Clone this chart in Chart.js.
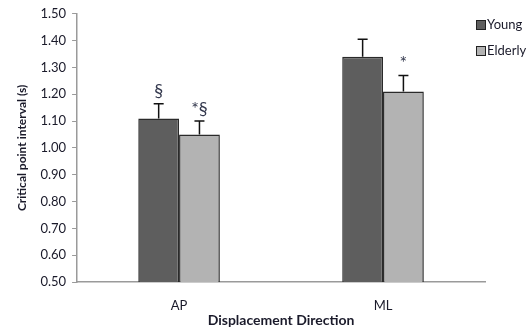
<!DOCTYPE html>
<html>
<head>
<meta charset="utf-8">
<script src="https://cdn.jsdelivr.net/npm/chart.js@4"></script>
<style>
    body { margin: 0; background: #fff; }
    #wrap { width: 531px; height: 327px; position: relative; }
</style>
</head>
<body>
<div id="wrap"><canvas id="chart"></canvas></div>
<script>
const categories = ["AP", "ML"];
const youngValues = [1.11, 1.34];
const elderlyValues = [1.05, 1.21];
const youngErrors = [0.055, 0.065];
const elderlyErrors = [0.05, 0.06];
const youngMarks = ["§", ""];
const elderlyMarks = ["*§", "*"];
const yTicks = [0.5, 0.6, 0.7, 0.8, 0.9, 1.0, 1.1, 1.2, 1.3, 1.4, 1.5];

const textColor = "#1a1a2a";
const fontFamily = "Lato, 'Open Sans', sans-serif";

Chart.defaults.color = textColor;
Chart.defaults.font.family = fontFamily;

// error bars (upward only) plus significance marks
const errorBarPlugin = {
    id: "errorBars",
    afterDatasetsDraw(chart) {
        const { ctx, scales } = chart;
        ctx.save();
        chart.data.datasets.forEach((ds, i) => {
            const meta = chart.getDatasetMeta(i);
            meta.data.forEach((bar, j) => {
                const top = scales.y.getPixelForValue(ds.data[j] + ds.errors[j]);
                ctx.strokeStyle = "#111";
                ctx.lineWidth = 1.5;
                ctx.beginPath();
                ctx.moveTo(bar.x, bar.y);
                ctx.lineTo(bar.x, top);
                ctx.moveTo(bar.x - 5, top);
                ctx.lineTo(bar.x + 5, top);
                ctx.stroke();
                if (ds.marks[j]) {
                    ctx.fillStyle = "#33384d";
                    ctx.font = "18px " + fontFamily;
                    ctx.textAlign = "center";
                    ctx.textBaseline = "bottom";
                    ctx.fillText(ds.marks[j], bar.x, top - 3);
                }
            });
        });
        ctx.restore();
    },
};

// legend at top right and the x axis title under the labels
const sideLegendPlugin = {
    id: "sideLegend",
    afterDraw(chart) {
        const { ctx, chartArea } = chart;
        ctx.save();
        chart.data.datasets.forEach((ds, i) => {
            const y = 25 + i * 26;
            ctx.fillStyle = ds.backgroundColor;
            ctx.strokeStyle = "#222";
            ctx.lineWidth = 1;
            ctx.fillRect(476.5, y - 4.5, 9, 9);
            ctx.strokeRect(476.5, y - 4.5, 9, 9);
            ctx.fillStyle = textColor;
            ctx.font = "13px " + fontFamily;
            ctx.textAlign = "left";
            ctx.textBaseline = "middle";
            ctx.fillText(ds.label, 487, y);
        });
        ctx.font = "bold 14px " + fontFamily;
        ctx.textAlign = "center";
        ctx.textBaseline = "middle";
        ctx.fillText("Displacement Direction", (chartArea.left + chartArea.right) / 2, 320);
        ctx.restore();
    },
};

new Chart(document.getElementById("chart"), {
    type: "bar",
    data: {
        labels: categories,
        datasets: [
            {
                label: "Young",
                data: youngValues,
                errors: youngErrors,
                marks: youngMarks,
                backgroundColor: "#5e5e5e",
                borderColor: "#2a2a2a",
                borderWidth: 1.5,
                categoryPercentage: 0.4,
                barPercentage: 1.0,
            },
            {
                label: "Elderly",
                data: elderlyValues,
                errors: elderlyErrors,
                marks: elderlyMarks,
                backgroundColor: "#b3b3b3",
                borderColor: "#2a2a2a",
                borderWidth: 1.5,
                categoryPercentage: 0.4,
                barPercentage: 1.0,
            },
        ],
    },
    options: {
        responsive: true,
        maintainAspectRatio: false,
        animation: false,
        layout: { padding: { top: 10, right: 46, left: 15, bottom: 12 } },
        plugins: {
            legend: { display: false },
            tooltip: { enabled: false },
        },
        scales: {
            x: {
                grid: { display: false, drawTicks: false },
                border: { color: "#9a9a9a", width: 1.5 },
                ticks: { padding: 16, font: { size: 13 }, color: textColor },
                afterFit(scale) {
                    scale.height = 33;
                },
            },
            y: {
                min: 0.5,
                max: 1.5,
                afterBuildTicks(axis) {
                    axis.ticks = yTicks.map((v) => ({ value: v }));
                },
                ticks: {
                    callback: (v) => Number(v).toFixed(2),
                    font: { size: 13 },
                    padding: 6,
                    color: textColor,
                },
                grid: { drawOnChartArea: false, drawTicks: true, tickLength: 5, color: "#9a9a9a" },
                border: { color: "#9a9a9a", width: 1.5 },
                title: {
                    display: true,
                    text: "Critical point interval (s)",
                    font: { size: 12, weight: "bold" },
                    padding: { top: 0, bottom: 5 },
                    color: textColor,
                },
            },
        },
    },
    plugins: [errorBarPlugin, sideLegendPlugin],
});
</script>
</body>
</html>
